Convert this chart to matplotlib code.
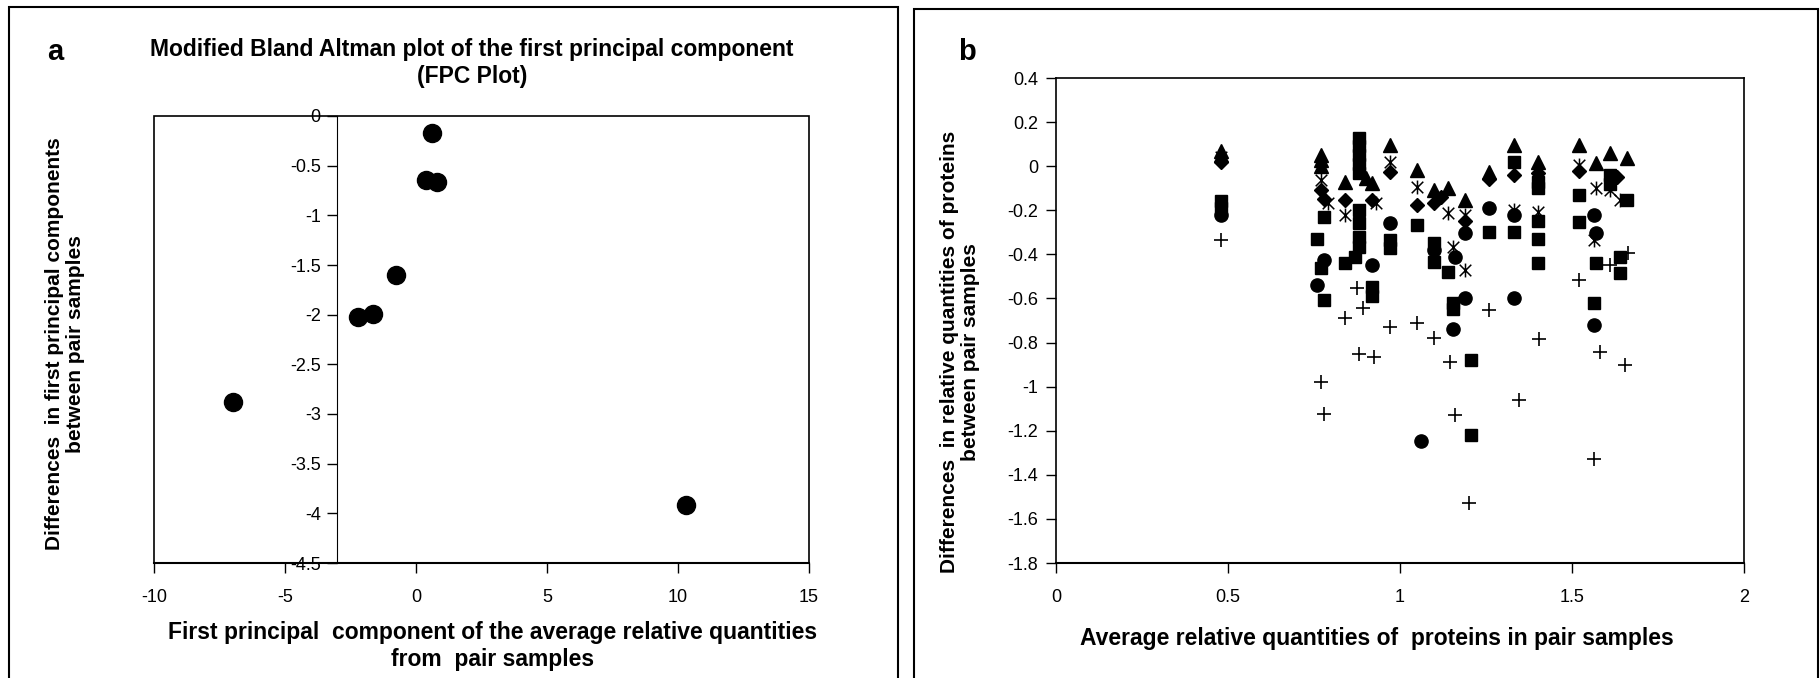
import matplotlib.pyplot as plt
import numpy as np
from matplotlib.path import Path
from matplotlib.patches import Rectangle

# ---- panel a data: first principal component Bland Altman
fpc_mean = [-7.0, 10.3, 0.6, 0.38, 0.8, -0.75, -2.2, -1.65]
fpc_diff = [-2.88, -3.92, -0.17, -0.64, -0.66, -1.60, -2.02, -1.99]

# ---- panel b data: one list pair per marker type
tri_x = [0.48, 0.48, 0.77, 0.77, 0.77, 0.84, 0.90, 0.92, 0.97, 1.05, 1.10, 1.14, 1.19, 1.26, 1.33, 1.40, 1.52, 1.57, 1.61, 1.66]
tri_y = [0.07, 0.05, 0.05, 0.03, 0.00, -0.07, -0.054, -0.078, 0.096, -0.017, -0.108, -0.10, -0.153, -0.025, 0.096, 0.02, 0.096, 0.013, 0.06, 0.036]

dia_x = [0.48, 0.77, 0.78, 0.84, 0.92, 0.97, 1.05, 1.10, 1.12, 1.19, 1.26, 1.33, 1.40, 1.52, 1.63]
dia_y = [0.02, -0.11, -0.15, -0.153, -0.153, -0.025, -0.176, -0.167, -0.14, -0.25, -0.06, -0.04, -0.03, -0.02, -0.05]

ast_x = [0.48, 0.77, 0.79, 0.84, 0.93, 0.97, 1.05, 1.14, 1.155, 1.19, 1.19, 1.33, 1.40, 1.52, 1.57, 1.565, 1.61, 1.64]
ast_y = [0.04, -0.063, -0.168, -0.22, -0.168, 0.02, -0.093, -0.213, -0.365, -0.47, -0.22, -0.2, -0.206, 0.005, -0.1, -0.335, -0.11, -0.153]

sq_x = [0.48, 0.48, 0.78, 0.76, 0.77, 0.78, 0.88, 0.88, 0.88, 0.88, 0.88, 0.88, 0.88, 0.88, 0.88, 0.84, 0.87, 0.92, 0.92,
        0.97, 0.97, 1.05, 1.10, 1.10, 1.14, 1.155, 1.155, 1.205, 1.205, 1.26, 1.33, 1.33, 1.40, 1.40, 1.40, 1.40, 1.40,
        1.52, 1.52, 1.57, 1.565, 1.61, 1.61, 1.66, 1.64, 1.64]
sq_y = [-0.16, -0.19, -0.229, -0.332, -0.46, -0.607, 0.13, 0.09, 0.05, 0.01, -0.03, -0.2, -0.258, -0.32, -0.365, -0.44, -0.41, -0.546, -0.59,
        -0.335, -0.37, -0.267, -0.35, -0.433, -0.478, -0.62, -0.65, -0.88, -1.22, -0.297, 0.02, -0.3, -0.07, -0.1, -0.25, -0.33, -0.44,
        -0.13, -0.252, -0.437, -0.622, -0.04, -0.08, -0.153, -0.41, -0.485]

circ_x = [0.48, 0.78, 0.76, 0.92, 0.97, 1.06, 1.10, 1.155, 1.19, 1.19, 1.26, 1.33, 1.33, 1.565, 1.57, 1.565, 1.16]
circ_y = [-0.22, -0.425, -0.54, -0.448, -0.259, -1.245, -0.38, -0.74, -0.305, -0.6, -0.191, -0.22, -0.6, -0.22, -0.305, -0.72, -0.41]

plus_x = [0.48, 0.77, 0.78, 0.84, 0.874, 0.893, 0.88, 0.924, 0.97, 1.05, 1.10, 1.145, 1.16, 1.20, 1.26, 1.345, 1.405, 1.52,
          1.564, 1.58, 1.61, 1.653, 1.664]
plus_y = [-0.335, -0.98, -1.124, -0.69, -0.554, -0.645, -0.85, -0.866, -0.728, -0.71, -0.78, -0.886, -1.13, -1.53, -0.652, -1.06,
          -0.785, -0.516, -1.328, -0.845, -0.45, -0.9, -0.395]

W, H = 1820, 678
plt.rcParams['font.family'] = ['Liberation Sans', 'DejaVu Sans']
plt.rcParams['axes.unicode_minus'] = False
fig = plt.figure(figsize=(W / 100, H / 100), dpi=100)


def px_axes(l, r, t, b):
    return fig.add_axes([l / W, 1 - b / H, (r - l) / W, (b - t) / H])


# outer panel frames
fig.add_artist(Rectangle((9 / W, -0.01), (898 - 9) / W, 1.01 - 7 / H, transform=fig.transFigure,
                         fill=False, lw=1.5, ec='black'))
fig.add_artist(Rectangle((914 / W, -0.01), (1818 - 914) / W, 1.01 - 9 / H, transform=fig.transFigure,
                         fill=False, lw=1.5, ec='black'))

#
# Panel a
#
ax = px_axes(154, 809, 116, 563)
ax.plot(fpc_mean, fpc_diff, 'o', color='black', ms=13)
ax.set_xlim(-10, 15)
ax.set_ylim(-4.5, 0)
ax.set_xticks(np.arange(-10, 16, 5))
ax.set_yticks(np.arange(-4.5, 0.01, 0.5))
ax.set_yticklabels(['-4.5', '-4', '-3.5', '-3', '-2.5', '-2', '-1.5', '-1', '-0.5', '0'])
ax.spines['left'].set_position(('data', -3))
ax.spines['bottom'].set_linewidth(1.5)
for s in ['top', 'right']:
    ax.spines[s].set_visible(False)
ax.add_patch(Rectangle((0, 0), 1, 1, transform=ax.transAxes, fill=False, lw=1.2, ec='black', clip_on=False))
ax.tick_params(direction='out', length=7, width=1, labelsize=13)
ax.tick_params(axis='x', pad=12)
ax.tick_params(axis='y', pad=5)

fig.text(55 / W, 1 - 52 / H, 'a', fontsize=21, fontweight='bold', ha='center', va='center')
fig.text(472 / W, 1 - 63 / H, 'Modified Bland Altman plot of the first principal component\n(FPC Plot)',
         fontsize=16.5, fontweight='bold', ha='center', va='center', linespacing=1.2)
fig.text(65 / W, 1 - 344 / H, 'Differences  in first principal components\nbetween pair samples',
         fontsize=15, fontweight='bold', ha='center', va='center', rotation=90, linespacing=1.15)
fig.text(493 / W, 1 - 646 / H, 'First principal  component of the average relative quantities\nfrom  pair samples',
         fontsize=16.5, fontweight='bold', ha='center', va='center', linespacing=1.18)

#
# Panel b
#
bx = px_axes(1056, 1744, 78, 563)
star = Path([(-1, -1), (1, 1), (-1, 1), (1, -1), (0, -1.2), (0, 1.2)],
            [Path.MOVETO, Path.LINETO, Path.MOVETO, Path.LINETO, Path.MOVETO, Path.LINETO])
bx.plot(tri_x, tri_y, '^', color='black', ms=9.5)
bx.plot(dia_x, dia_y, 'D', color='black', ms=7.5)
bx.plot(ast_x, ast_y, ls='none', marker=star, color='black', ms=10, mew=1.1)
bx.plot(sq_x, sq_y, 's', color='black', ms=9)
bx.plot(circ_x, circ_y, 'o', color='black', ms=9.5)
bx.plot(plus_x, plus_y, '+', color='black', ms=10, mew=1.2)
bx.set_xlim(0, 2)
bx.set_ylim(-1.8, 0.4)
bx.set_xticks(np.arange(0, 2.01, 0.5))
bx.set_xticklabels(['0', '0.5', '1', '1.5', '2'])
bx.set_yticks(np.arange(-1.8, 0.41, 0.2))
bx.set_yticklabels(['-1.8', '-1.6', '-1.4', '-1.2', '-1', '-0.8', '-0.6', '-0.4', '-0.2', '0', '0.2', '0.4'])
bx.spines['bottom'].set_linewidth(1.5)
for s in ['top', 'right', 'left']:
    bx.spines[s].set_linewidth(1.2)
bx.tick_params(direction='out', length=7, width=1, labelsize=13)
bx.tick_params(axis='x', pad=12)
bx.tick_params(axis='y', pad=6)

fig.text(967 / W, 1 - 52 / H, 'b', fontsize=21, fontweight='bold', ha='center', va='center')
fig.text(960 / W, 1 - 352 / H, 'Differences  in relative quantities of proteins\nbetween pair samples',
         fontsize=15, fontweight='bold', ha='center', va='center', rotation=90, linespacing=1.15)
fig.text(1377 / W, 1 - 638 / H, 'Average relative quantities of  proteins in pair samples',
         fontsize=16.5, fontweight='bold', ha='center', va='center')

fig.savefig('out.png', dpi=100)
